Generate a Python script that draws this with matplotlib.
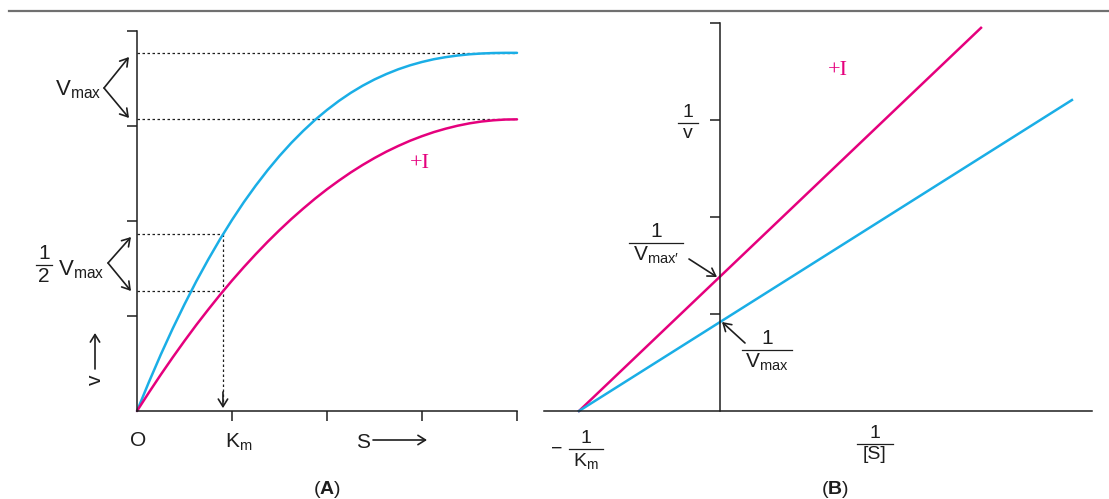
import matplotlib
matplotlib.use("Agg")
import matplotlib.pyplot as plt

plt.rcParams['font.family'] = ['Liberation Sans', 'DejaVu Sans']
plt.rcParams['mathtext.fontset'] = 'custom'
plt.rcParams['mathtext.rm'] = 'Liberation Sans'
plt.rcParams['mathtext.it'] = 'Liberation Sans:italic'
plt.rcParams['mathtext.bf'] = 'Liberation Sans:bold'

# ---- data: panel A (Michaelis-Menten) ----
s_vals = [0, 0.125, 0.25, 0.375, 0.5, 0.625, 0.75, 0.875, 1.0, 1.125, 1.25, 1.375, 1.5,
          1.625, 1.75, 1.875, 2.0, 2.125, 2.25, 2.375, 2.5, 2.625, 2.75, 2.875, 3.0,
          3.125, 3.25, 3.375, 3.5, 3.625, 3.75, 3.875, 4.0]
v_no_inhib = [0, 0.304, 0.593, 0.866, 1.123, 1.367, 1.595, 1.810, 2.011, 2.199, 2.373, 2.535,
              2.685, 2.823, 2.949, 3.065, 3.169, 3.264, 3.349, 3.424, 3.490, 3.547, 3.597,
              3.639, 3.674, 3.703, 3.725, 3.742, 3.755, 3.763, 3.768, 3.770, 3.770]
v_inhib = [0, 0.194, 0.382, 0.563, 0.738, 0.907, 1.068, 1.224, 1.373, 1.515, 1.651, 1.781,
           1.904, 2.021, 2.131, 2.236, 2.334, 2.425, 2.511, 2.590, 2.663, 2.730, 2.790,
           2.845, 2.893, 2.936, 2.972, 3.003, 3.028, 3.047, 3.060, 3.068, 3.070]
vmax = 3.77
vmax_inhib = 3.07
half_v = 1.86
half_v_inhib = 1.26
km_x = 0.905
a_ticks = [1, 2, 3, 4]

# ---- data: panel B (Lineweaver-Burk) ----
inv_s_no_inhib = [-1.0, 2.496]
inv_v_no_inhib = [0.0, 3.206]
inv_s_inhib = [-1.0, 1.851]
inv_v_inhib = [0.0, 3.95]
b_yticks = [1, 2, 3, 4]

BLUE = '#1aaee6'
MAG = '#e5007d'
INK = '#1e1e1e'

W, H = 1109, 499
fig = plt.figure(figsize=(W / 100, H / 100), dpi=100)

def px_rect(x0, y_top, x1, y_bot):
    return [x0 / W, 1 - y_bot / H, (x1 - x0) / W, (y_bot - y_top) / H]

# Panel A
axA = fig.add_axes(px_rect(137, 31, 517, 411))
axA.set_xlim(0, 4)
axA.set_ylim(0, 4)
for s in ['top', 'right']:
    axA.spines[s].set_visible(False)
for s in ['left', 'bottom']:
    axA.spines[s].set_linewidth(1.1)
    axA.spines[s].set_color(INK)
axA.set_xticks(a_ticks)
axA.set_yticks(a_ticks)
axA.tick_params(axis='both', length=7.5, width=1.1, color=INK, direction='out',
                labelbottom=False, labelleft=False)
axA.patch.set_alpha(0)
dot = dict(color=INK, lw=0.9, ls=(0, (2, 2)), clip_on=False)
axA.plot([0, 4], [vmax, vmax], **dot)
axA.plot([0, 4], [vmax_inhib, vmax_inhib], **dot)
axA.plot([0, km_x], [half_v, half_v], **dot)
axA.plot([0, km_x], [half_v_inhib, half_v_inhib], **dot)
axA.plot([km_x, km_x], [half_v, 0.08], **dot)
ARW = '->,head_length=0.45,head_width=0.28'
axA.annotate('', xy=(km_x, 0.03), xytext=(km_x, 0.2),
             arrowprops=dict(arrowstyle=ARW, color=INK, lw=1.2, shrinkA=0, shrinkB=0,
                             mutation_scale=12))
axA.plot(s_vals, v_no_inhib, color=BLUE, lw=1.8, clip_on=False, solid_capstyle='round')
axA.plot(s_vals, v_inhib, color=MAG, lw=1.8, clip_on=False, solid_capstyle='round')

# Panel B
x_left = (544 - 720) / 141
x_right = (1092 - 720) / 141
axB = fig.add_axes(px_rect(544, 23, 1092, 411))
axB.set_xlim(x_left, x_right)
axB.set_ylim(0, 4)
for s in ['top', 'right']:
    axB.spines[s].set_visible(False)
axB.spines['left'].set_position(('data', 0))
for s in ['left', 'bottom']:
    axB.spines[s].set_linewidth(1.1)
    axB.spines[s].set_color(INK)
axB.set_xticks([])
axB.set_yticks(b_yticks)
axB.tick_params(axis='y', length=7.5, width=1.1, color=INK, direction='out', labelleft=False)
axB.patch.set_alpha(0)
axB.plot(inv_s_inhib, inv_v_inhib, color=MAG, lw=1.8, clip_on=False)
axB.plot(inv_s_no_inhib, inv_v_no_inhib, color=BLUE, lw=1.8, clip_on=False)

# overlay for annotations in pixel coordinates
ov = fig.add_axes([0, 0, 1, 1])
ov.set_xlim(0, W)
ov.set_ylim(H, 0)
ov.axis('off')
ov.patch.set_alpha(0)

ov.plot([9, W], [11, 11], color='#707070', lw=1.6)

def arrow(x0, y0, x1, y1, ms=12):
    ov.annotate('', xy=(x1, y1), xytext=(x0, y0),
                arrowprops=dict(arrowstyle=ARW, color=INK, lw=1.2, shrinkA=0, shrinkB=0,
                                mutation_scale=ms))

def frac(x, ybar, num, den, w, fs=14):
    ov.text(x, ybar - 2, num, ha='center', va='bottom', fontsize=fs, color=INK)
    ov.plot([x - w / 2, x + w / 2], [ybar, ybar], color=INK, lw=0.9)
    ov.text(x, ybar + 2, den, ha='center', va='top', fontsize=fs, color=INK)

VMAX = r'$\mathrm{V}_{\mathrm{max}}$'

# Panel A annotations
ov.text(78, 90, VMAX, ha='center', va='center', fontsize=16, color=INK)
arrow(104, 88, 129, 57)
arrow(104, 88, 129, 118)
frac(44, 265, '1', '2', 16, fs=15)
ov.text(81, 270, VMAX, ha='center', va='center', fontsize=16, color=INK)
arrow(108, 263, 131, 237)
arrow(108, 263, 131, 291)
ov.text(95, 380, 'v', rotation=90, ha='center', va='center', fontsize=15, color=INK)
arrow(95, 369, 95, 333)
ov.text(138, 440, 'O', ha='center', va='center', fontsize=15, color=INK)
ov.text(239, 442, r'$\mathrm{K}_{\mathrm{m}}$', ha='center', va='center', fontsize=15, color=INK)
ov.text(363, 442, 'S', ha='center', va='center', fontsize=15, color=INK)
arrow(373, 440, 427, 440)
ov.text(420, 163, '+I', ha='center', va='center', fontsize=16, color=MAG,
        family=['Liberation Serif', 'DejaVu Serif'])
ov.text(327, 490, r'($\mathbf{A}$)', ha='center', va='center', fontsize=14, color=INK)

# Panel B annotations
frac(688, 123, '1', 'v', 20, fs=14)
ov.text(838, 70, '+I', ha='center', va='center', fontsize=16, color=MAG,
        family=['Liberation Serif', 'DejaVu Serif'])
frac(656, 243, '1', r"$\mathrm{V}_{\mathrm{max\prime}}$", 54, fs=15)
arrow(689, 259, 717, 277)
frac(767, 350, '1', VMAX, 50, fs=15)
arrow(745, 343, 722, 322)
ov.text(557, 449, '\u2212', ha='center', va='center', fontsize=14, color=INK)
frac(586, 449, '1', r'$\mathrm{K}_{\mathrm{m}}$', 34, fs=14)
frac(875, 444, '1', '[S]', 36, fs=14)
ov.text(835, 490, r'($\mathbf{B}$)', ha='center', va='center', fontsize=14, color=INK)

fig.savefig('out.png', dpi=100)
